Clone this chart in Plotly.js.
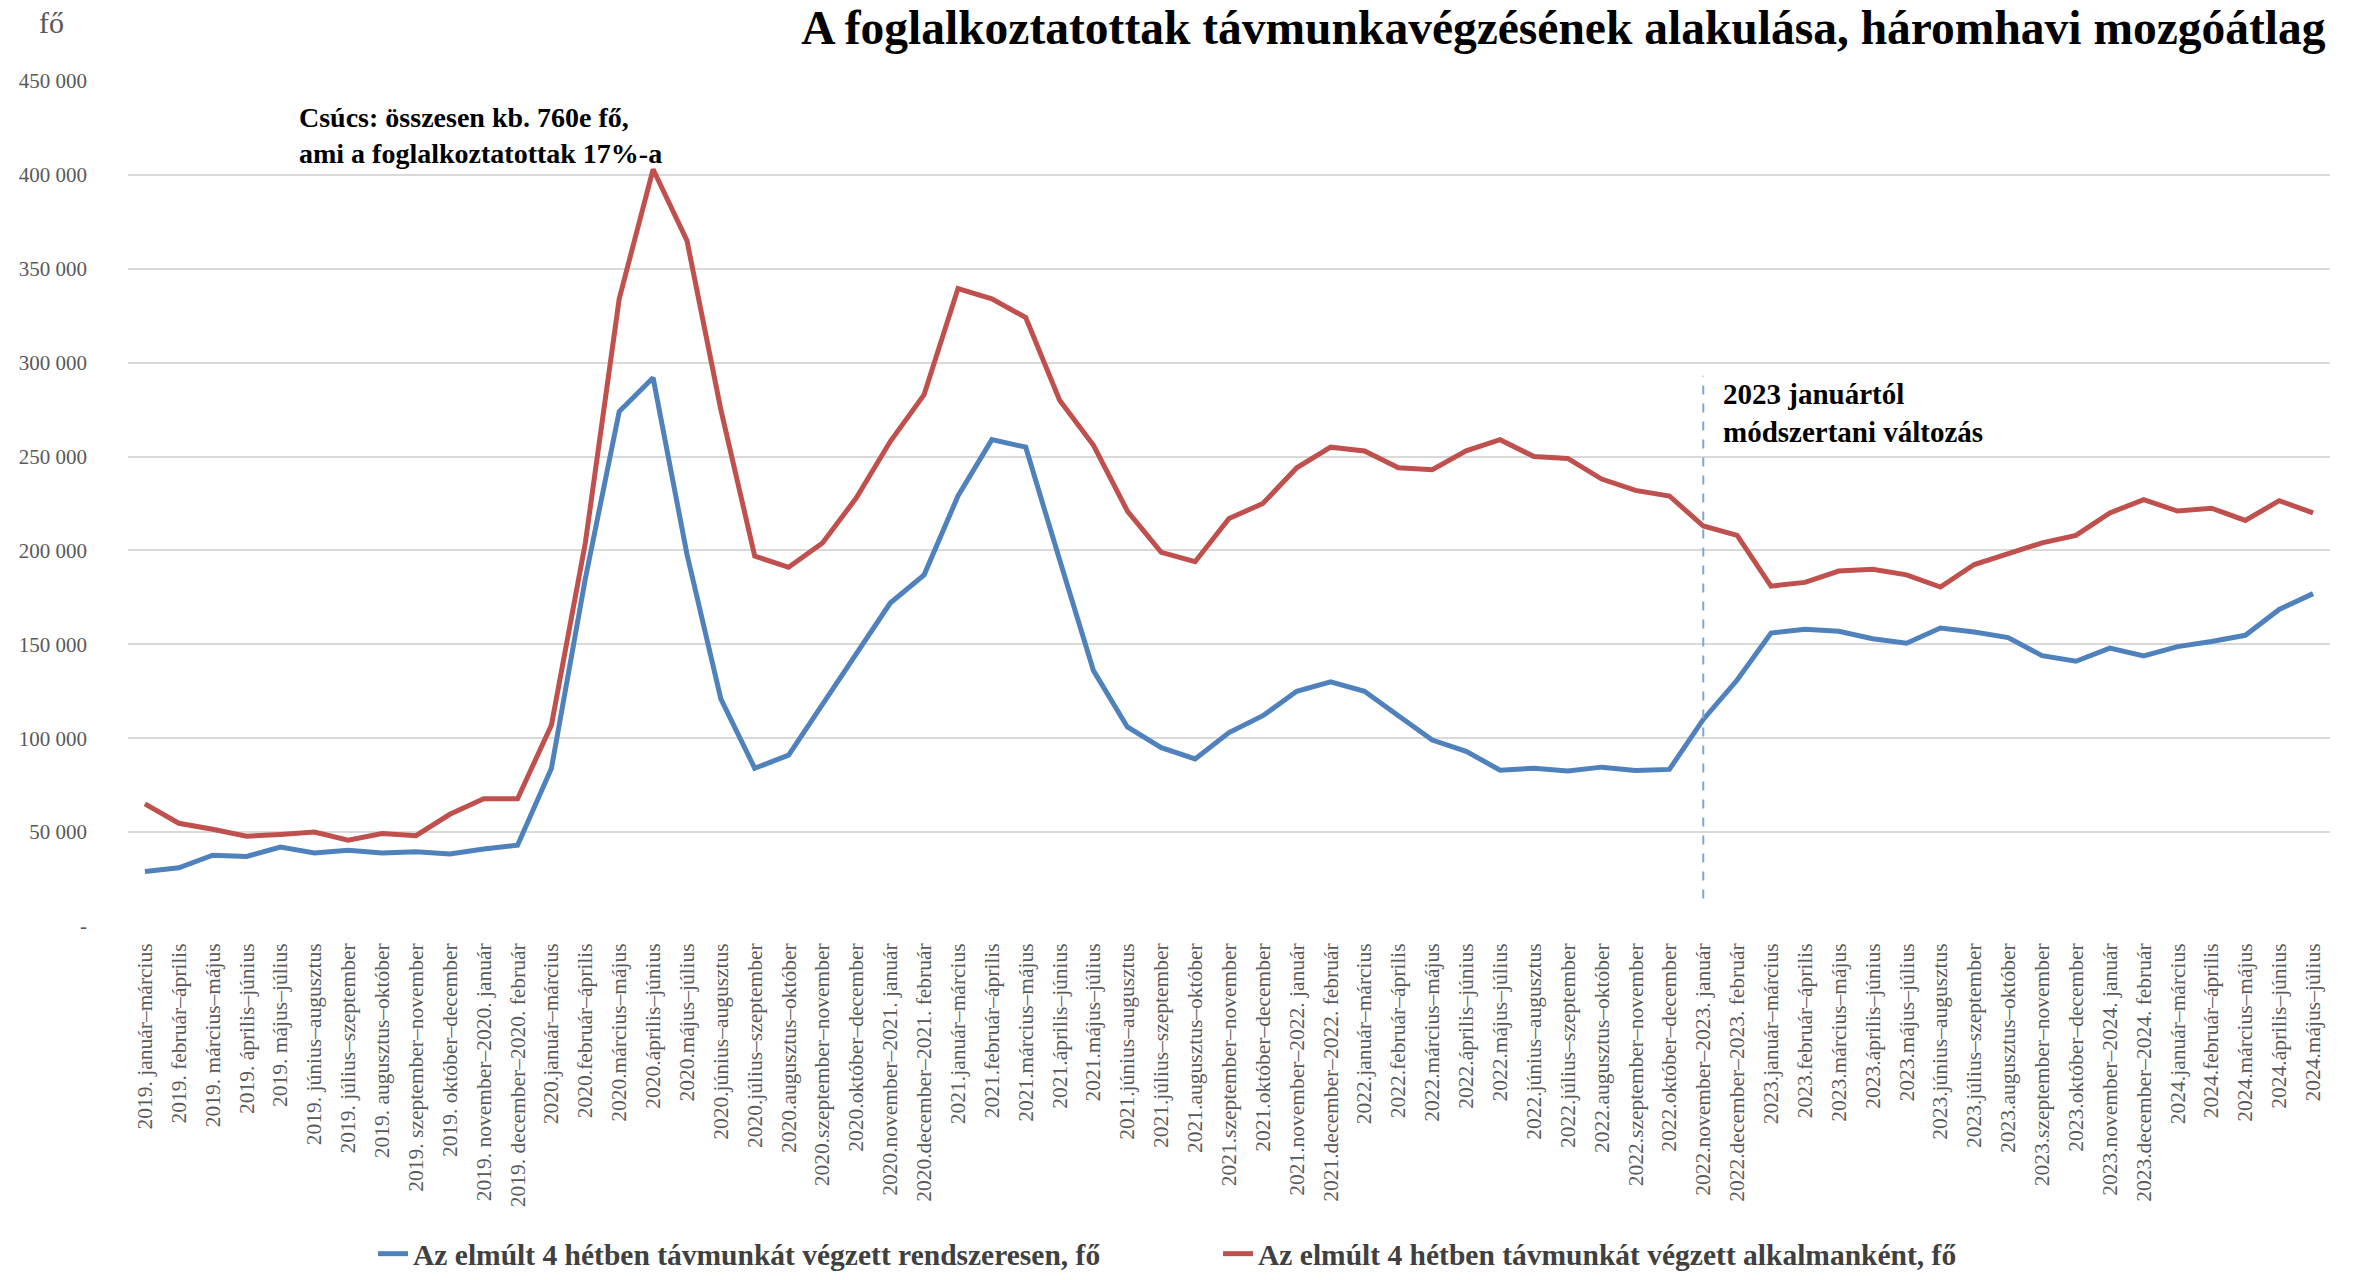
<!DOCTYPE html>
<html>
<head>
<meta charset="utf-8">
<script src="https://cdn.plot.ly/plotly-3.0.1.min.js"></script>
<style>
html, body { margin: 0; padding: 0; background: #ffffff; }
#chart { width: 2361px; height: 1280px; }
</style>
</head>
<body>
<div id="chart"></div>
<script>
const categories = [
  "2019. január–március", "2019. február–április", "2019. március–május", "2019. április–június",
  "2019. május–július", "2019. június–augusztus", "2019. július–szeptember", "2019. augusztus–október",
  "2019. szeptember–november", "2019. október–december", "2019. november–2020. január", "2019. december–2020. február",
  "2020.január–március", "2020.február–április", "2020.március–május", "2020.április–június",
  "2020.május–július", "2020.június–augusztus", "2020.július–szeptember", "2020.augusztus–október",
  "2020.szeptember–november", "2020.október–december", "2020.november–2021. január", "2020.december–2021. február",
  "2021.január–március", "2021.február–április", "2021.március–május", "2021.április–június",
  "2021.május–július", "2021.június–augusztus", "2021.július–szeptember", "2021.augusztus–október",
  "2021.szeptember–november", "2021.október–december", "2021.november–2022. január", "2021.december–2022. február",
  "2022.január–március", "2022.február–április", "2022.március–május", "2022.április–június",
  "2022.május–július", "2022.június–augusztus", "2022.július–szeptember", "2022.augusztus–október",
  "2022.szeptember–november", "2022.október–december", "2022.november–2023. január", "2022.december–2023. február",
  "2023.január–március", "2023.február–április", "2023.március–május", "2023.április–június",
  "2023.május–július", "2023.június–augusztus", "2023.július–szeptember", "2023.augusztus–október",
  "2023.szeptember–november", "2023.október–december", "2023.november–2024. január", "2023.december–2024. február",
  "2024.január–március", "2024.február–április", "2024.március–május", "2024.április–június",
  "2024.május–július"
];

const rendszeresen = [
  29000, 31000, 37700, 37000, 42000, 38900, 40300, 38900, 39500, 38300, 41000, 43000,
  84000, 185000, 274000, 292000, 198000, 121000, 84000, 91000, 118000, 145000, 172000, 187000,
  229000, 259000, 255000, 195000, 136000, 106000, 95000, 89000, 103000, 112000, 125000, 130000,
  125000, 112000, 99000, 93000, 83000, 84000, 82500, 84600, 82800, 83400, 110000, 131000,
  156000, 158000, 157000, 153000, 150600, 158700, 156600, 153600, 144000, 141000, 148000, 143800,
  148800, 151500, 154800, 168600, 177000
];

const alkalmankent = [
  65000, 54700, 51500, 47800, 48700, 50000, 45700, 49300, 48100, 59500, 67800, 67800,
  107000, 204000, 334000, 403000, 365000, 275000, 197000, 191000, 204000, 228000, 258000, 283000,
  339500, 334000, 324000, 280000, 256000, 221000, 199000, 194000, 217000, 225000, 244000, 255000,
  253000, 244000, 243000, 253000, 259000, 250000, 249000, 238000, 232000, 229000, 213000, 208000,
  181000, 183000, 189000, 190000, 187000, 180500, 192500, 198000, 204000, 208000, 220000, 227000,
  221000, 222500, 216000, 226500, 220000
];

const yTickVals = [0, 50000, 100000, 150000, 200000, 250000, 300000, 350000, 400000, 450000];
const yTickText = ["-", "50 000", "100 000", "150 000", "200 000", "250 000", "300 000", "350 000", "400 000", "450 000"];

const seriesNames = [
  "Az elmúlt 4 hétben távmunkát végzett rendszeresen, fő",
  "Az elmúlt 4 hétben távmunkát végzett alkalmanként, fő"
];

const changeCategory = "2022.november–2023. január";

const serif = "Liberation Serif, Times New Roman, serif";

const traces = [
  {
    x: categories, y: rendszeresen, type: "scatter", mode: "lines",
    name: seriesNames[0],
    line: { color: "#4f81bd", width: 5 }
  },
  {
    x: categories, y: alkalmankent, type: "scatter", mode: "lines",
    name: seriesNames[1],
    line: { color: "#c0504d", width: 5 }
  }
];

const layout = {
  width: 2361, height: 1280,
  paper_bgcolor: "#ffffff", plot_bgcolor: "#ffffff",
  margin: { l: 128, r: 31, t: 81, b: 354, autoexpand: false },
  font: { family: serif, color: "#595959", size: 20 },
  title: {
    text: "<b>A foglalkoztatottak távmunkavégzésének alakulása, háromhavi mozgóátlag</b>",
    xref: "container", x: 0.985, xanchor: "right",
    yref: "container", y: 0.979, yanchor: "middle",
    font: { family: serif, size: 47.5, color: "#000000" }
  },
  showlegend: true,
  legend: {
    orientation: "h", xref: "container", yref: "container",
    x: 0.158, xanchor: "left", y: 0.0, yanchor: "bottom",
    entrywidth: 800, entrywidthmode: "pixels",
    font: { family: serif, size: 29.5, color: "#404040", weight: "bold" },
    bgcolor: "rgba(0,0,0,0)"
  },
  xaxis: {
    type: "category",
    range: [-0.5, categories.length - 0.5],
    tickangle: -90,
    automargin: false,
    showgrid: false, zeroline: false, showline: false,
    ticks: "",
    ticklabelstandoff: 12,
    tickfont: { family: serif, size: 21.5, color: "#595959" },
    fixedrange: true
  },
  yaxis: {
    range: [0, 450000],
    automargin: false,
    tickvals: yTickVals, ticktext: yTickText,
    showgrid: true, gridcolor: "#d9d9d9", gridwidth: 2,
    zeroline: false, showline: false, ticks: "",
    ticklabelstandoff: 40,
    tickfont: { family: serif, size: 21, color: "#595959" },
    fixedrange: true
  },
  shapes: [
    {
      type: "line", xref: "x", yref: "y",
      x0: changeCategory, x1: changeCategory, y0: 14600, y1: 293000,
      line: { color: "#7fa5d5", width: 2, dash: "dash" }
    }
  ],
  annotations: [
    {
      text: "fő", xref: "paper", yref: "paper",
      x: -0.0413, y: 1.0698, xanchor: "left", yanchor: "middle",
      showarrow: false, font: { family: serif, size: 30, color: "#595959" }
    },
    {
      text: "<b>Csúcs: összesen kb. 760e fő,<br>ami a foglalkoztatottak 17%-a</b>",
      xref: "paper", yref: "paper", x: 0.0767, y: 0.9775, xanchor: "left", yanchor: "top",
      align: "left", showarrow: false,
      font: { family: serif, size: 28, color: "#000000" }
    },
    {
      text: "<b>2023 januártól<br>módszertani változás</b>",
      xref: "paper", yref: "paper", x: 0.7234, y: 0.651, xanchor: "left", yanchor: "top",
      align: "left", showarrow: false,
      font: { family: serif, size: 29, color: "#000000" }
    }
  ]
};

Plotly.newPlot("chart", traces, layout, { displayModeBar: false, staticPlot: true });
</script>
</body>
</html>
